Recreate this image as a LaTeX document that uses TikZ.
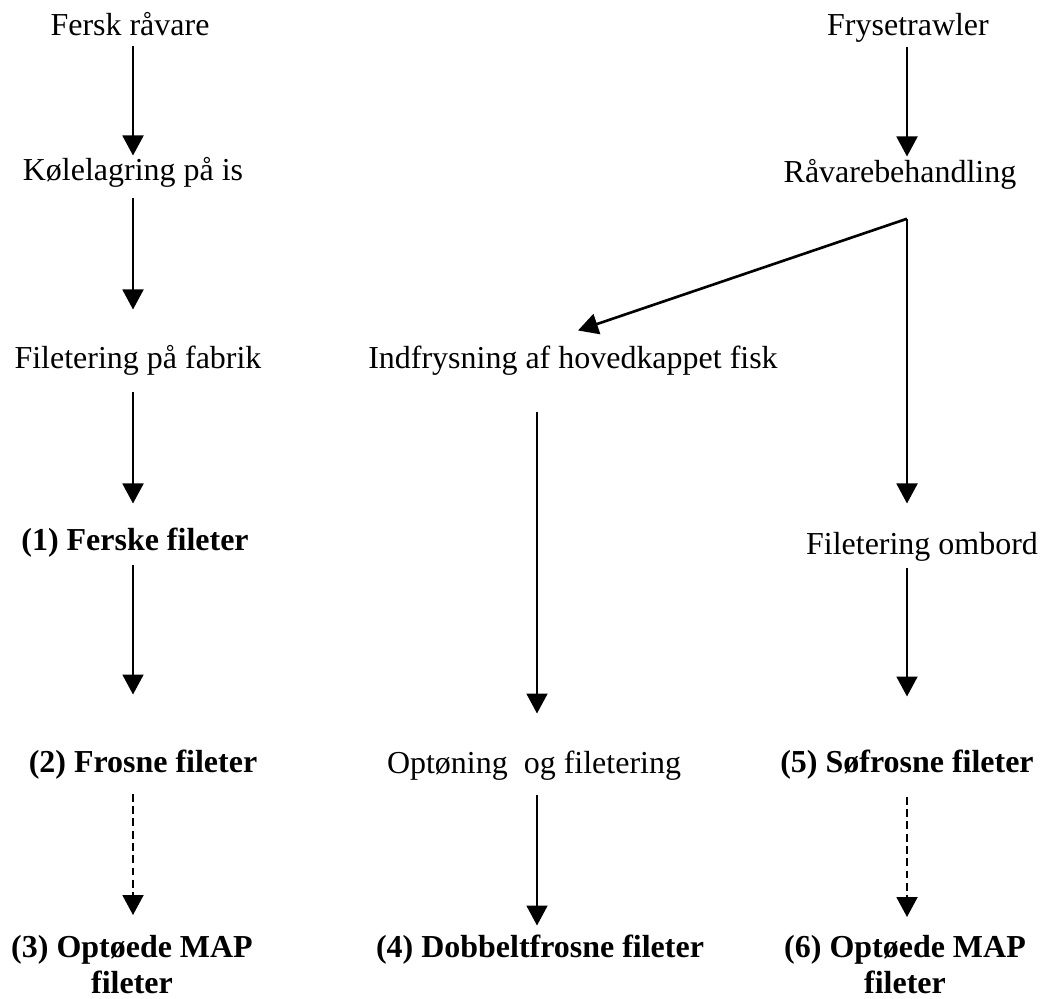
\documentclass[tikz,border=0pt]{standalone}
\usepackage{fontspec}
\setmainfont{Liberation Serif}
\usetikzlibrary{arrows.meta, positioning, calc}

\tikzset{
    tekst/.style={inner sep=0pt, anchor=base, text height=0.75em, text depth=0.25em,
        font=\fontsize{18.2}{20.5}\selectfont},
    fedtekst/.style={tekst, font=\fontsize{18.2}{20.5}\selectfont\bfseries},
    tolinjer/.style={inner sep=0pt, anchor=north, align=center,
        font=\fontsize{18.2}{20.5}\selectfont\bfseries},
    pil/.style={-{Triangle[length=0.4cm, width=0.42cm]}, line width=1.1pt},
    stiplet/.style={pil, dash pattern=on 4.5pt off 2.5pt}
}

\begin{document}
\begin{tikzpicture}[x=0.02cm, y=-0.02cm]
    \useasboundingbox (0,0) rectangle (1050,998);

    % arrow columns
    \coordinate (s1) at (133,0);
    \coordinate (s2) at (537,0);
    \coordinate (s3) at (907,0);

    % fresh fish, left column
    \node[tekst] (fersk) at (130,35) {Fersk råvare};
    \node[tekst] (kole) at (133,180) {Kølelagring på is};
    \node[tekst] (filfab) at (138,368) {Filetering på fabrik};
    \node[fedtekst] (f1) at (135,550) {(1) Ferske fileter};
    \node[fedtekst] (f2) at (143,772) {(2) Frosne fileter};
    \node[tolinjer] (f3) at (132,935) {(3) Optøede MAP\\fileter};

    % middle column
    \node[tekst] (indfrys) at (573,368) {Indfrysning af hovedkappet fisk};
    \node[tekst] (opt) at (534,773) {Optøning~ og filetering};
    \node[fedtekst] (f4) at (540,957) {(4) Dobbeltfrosne fileter};

    % trawler, right column
    \node[tekst] (fryse) at (908,35) {Frysetrawler};
    \node[tekst] (raav) at (900,182) {Råvarebehandling};
    \node[tekst] (filomb) at (922,554) {Filetering ombord};
    \node[fedtekst] (f5) at (907,772) {(5) Søfrosne fileter};
    \node[tolinjer] (f6) at (905,935) {(6) Optøede MAP\\fileter};

    \draw[pil, shorten <=0.12cm, shorten >=0.22cm] (fersk.south -| s1) -- (kole.north -| s1);
    \draw[pil, shorten <=0.26cm, shorten >=0.9cm] (kole.south -| s1) -- (filfab.north -| s1);
    \draw[pil, shorten <=0.38cm, shorten >=0.66cm] (filfab.south -| s1) -- (f1.north -| s1);
    \draw[pil, shorten <=0.2cm, shorten >=1.28cm] (f1.south -| s1) -- (f2.north -| s1);
    \draw[stiplet, shorten <=0.34cm, shorten >=0.4cm] (f2.south -| s1) -- (f3.north -| s1);

    \draw[pil, shorten <=0.78cm, shorten >=0.92cm] (indfrys.south -| s2) -- (opt.north -| s2);
    \draw[pil, shorten <=0.34cm, shorten >=0.36cm] (opt.south -| s2) -- (f4.north -| s2);

    \draw[pil, shorten <=0.14cm, shorten >=0.24cm] (fryse.south -| s3) -- (raav.north -| s3);
    % split below Raavarebehandling
    \path (raav.south -| s3) ++(0,32) coordinate (knek);
    \draw[pil, line width=1.5pt] (knek) -- ([xshift=0.1cm, yshift=0.48cm]indfrys.north);
    \draw[pil, shorten >=0.74cm] (knek) -- (filomb.north -| s3);
    \draw[pil, shorten <=0.18cm, shorten >=1.24cm] (filomb.south -| s3) -- (f5.north -| s3);
    \draw[stiplet, shorten <=0.4cm, shorten >=0.36cm] (f5.south -| s3) -- (f6.north -| s3);
\end{tikzpicture}
\end{document}
